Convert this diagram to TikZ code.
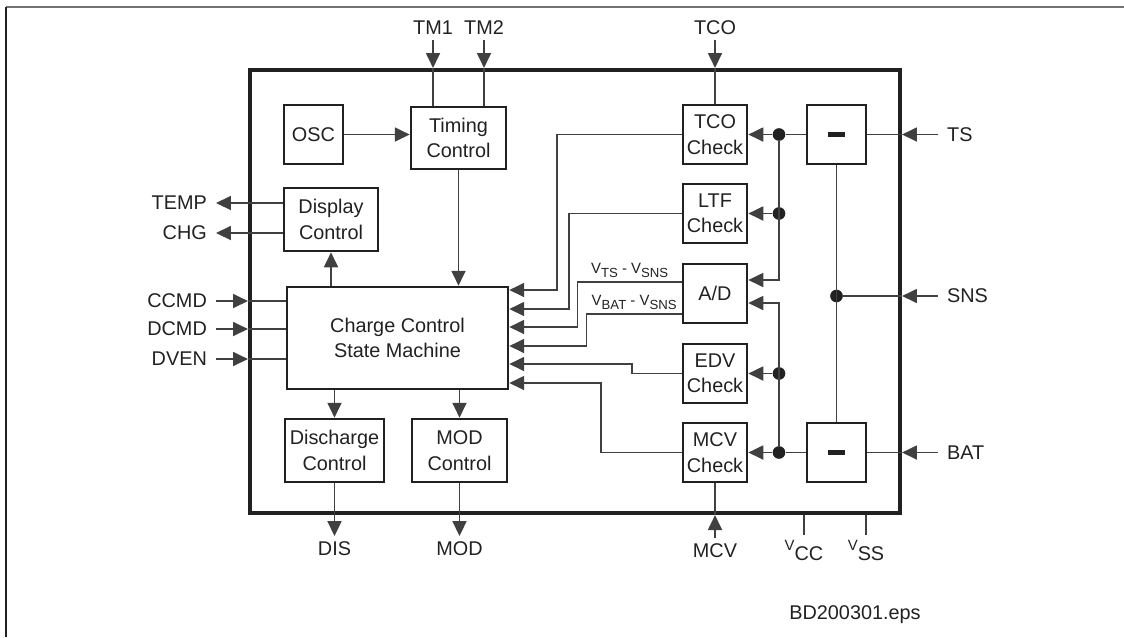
\documentclass[tikz,border=0pt]{standalone}
\usepackage{fontspec}
\setmainfont{Liberation Sans}
\usepackage{tikz}
\usetikzlibrary{arrows.meta,calc}
\definecolor{ink}{gray}{0.13}
\definecolor{wirec}{gray}{0.25}
\newcommand\pinfont{\fontsize{11.3}{14.5}\selectfont}
\newcommand\vrail[1]{\raisebox{5.5pt}{\fontsize{8.5}{9}\selectfont V}#1}
\newcommand\vdiff[2]{V\raisebox{-2.6pt}{\fontsize{7.5}{8}\selectfont #1} - V\raisebox{-2.6pt}{\fontsize{7.5}{8}\selectfont #2}}
\tikzset{
  blk/.style={draw=ink, line width=1.5pt, align=center, inner sep=1pt, text=ink, font=\pinfont},
  chk/.style={blk, minimum width=1.28cm, minimum height=1.18cm},
  diffbox/.style={blk, minimum width=1.18cm, minimum height=1.18cm,
    path picture={\fill[ink] ($(path picture bounding box.center)+(-5.1pt,-1.4pt)$) rectangle ($(path picture bounding box.center)+(5.1pt,1.4pt)$);}},
  chipbox/.style={draw=ink, line width=2.4pt, minimum width=13cm, minimum height=8.86cm},
  pinlbl/.style={text=ink, font=\pinfont, inner xsep=5pt, inner ysep=3pt},
  vlbl/.style={text=ink, font=\fontsize{8.5}{10}\selectfont, inner sep=0pt, above=2pt},
  jn/.style={circle, fill=ink, inner sep=0pt, minimum size=7.2pt},
  wire/.style={draw=wirec, line width=0.9pt},
  fl/.style={wire, -{Triangle[length=8.5pt,width=8pt]}},
}
\begin{document}
\begin{tikzpicture}[x=0.02cm, y=-0.02cm]
\useasboundingbox (0,0) rectangle (1124,637);
% page rule
\draw[black!55, line width=1.3pt] (6,7) -- (1124,7);
\draw[ink, line width=1.1pt] (6,7) -- (6,637);
% chip outline
\node[chipbox] (chip) at (575,291.5) {};
% control blocks
\node[blk, minimum width=1.18cm, minimum height=1.18cm] (osc) at (313.5,134.5) {OSC};
\node[blk, minimum width=1.9cm, minimum height=1.24cm] (tim) at (458.5,138) {Timing\\Control};
\node[blk, minimum width=1.88cm, minimum height=1.26cm] (disp) at (331,219.5) {Display\\Control};
\node[blk, minimum width=4.42cm, minimum height=2.04cm] (ccsm) at (397.5,338) {Charge Control\\State Machine};
\node[blk, minimum width=1.98cm, minimum height=1.26cm] (disch) at (334.5,450.5) {Discharge\\Control};
\node[blk, minimum width=1.9cm, minimum height=1.26cm] (modc) at (459.5,450.5) {MOD\\Control};
% check column
\node[chk] (tco) at (715,134.5) {TCO\\Check};
\node[chk] (ltf) at (715,213.5) {LTF\\Check};
\node[chk] (adc) at (715,293.5) {A/D};
\node[chk] (edv) at (715,373.5) {EDV\\Check};
\node[chk] (mcv) at (715,452.5) {MCV\\Check};
\node[diffbox] (sub1) at (836.5,134.5) {};
\node[diffbox] (sub2) at (836.5,452.5) {};
% junctions
\node[jn] (d1) at (779,134.5) {};
\node[jn] (d2) at (779,213.5) {};
\node[jn] (d3) at (779,373.5) {};
\node[jn] (d4) at (779,452.5) {};
\node[jn] (dsns) at (836.5,296) {};
% pins
\node[pinlbl, anchor=south] (tm1) at (433,40) {TM1};
\node[pinlbl, anchor=south] (tm2) at (484,40) {TM2};
\node[pinlbl, anchor=south] (tcol) at (715,40) {TCO};
\node[pinlbl, anchor=east] (temp) at (216,203) {TEMP};
\node[pinlbl, anchor=east] (chg) at (216,233) {CHG};
\node[pinlbl, anchor=east] (ccmd) at (216,301) {CCMD};
\node[pinlbl, anchor=east] (dcmd) at (216,329) {DCMD};
\node[pinlbl, anchor=east] (dven) at (216,359) {DVEN};
\node[pinlbl, anchor=west] (ts) at (938,134.5) {TS};
\node[pinlbl, anchor=west] (sns) at (938,296) {SNS};
\node[pinlbl, anchor=west] (bat) at (938,452.5) {BAT};
\node[pinlbl, anchor=north] (dis) at (334.5,536) {DIS};
\node[pinlbl, anchor=north] (mod) at (459.5,536) {MOD};
\node[pinlbl, anchor=north] (mcvl) at (715,538) {MCV};
\node[pinlbl, anchor=north] (vcc) at (804,535) {\vrail{CC}};
\node[pinlbl, anchor=north] (vss) at (866,535) {\vrail{SS}};
\node[pinlbl] (fig) at (855,615) {BD200301.eps};
% top inputs
\foreach \p/\b in {tm1/tim, tm2/tim, tcol/tco} {
  \draw[fl] (\p.south) -- (\p.south |- chip.north);
  \draw[wire] (\p.south |- chip.north) -- (\p.south |- \b.north);
}
% left side
\foreach \p in {temp, chg} \draw[fl] (disp.west |- \p) -- (\p.east);
\foreach \p in {ccmd, dcmd, dven} {
  \draw[fl] (\p.east) -- (\p.east -| chip.west);
  \draw[wire] (\p.east -| chip.west) -- (\p.east -| ccsm.west);
}
\draw[fl] (osc.east) -- (osc.east -| tim.west);
\draw[fl] (tim.south) -- (tim.south |- ccsm.north);
\draw[fl] (disp.south |- ccsm.north) -- (disp.south);
\foreach \b/\p in {disch/dis, modc/mod} {
  \draw[fl] (\b.north |- ccsm.south) -- (\b.north);
  \draw[fl] (\b.south) -- (\p.north);
}
% bottom pins
\draw[fl] (mcvl.north) -- (mcvl.north |- chip.south);
\draw[wire] (mcvl.north |- chip.south) -- (mcv.south);
\foreach \p in {vcc, vss} \draw[wire] (\p.north |- chip.south) -- (\p.north);
% right side pins
\foreach \p/\b in {ts/sub1.east, sns/dsns, bat/sub2.east} {
  \draw[fl] (\p.west) -- (\p.west -| chip.east);
  \draw[wire] (\p.west -| chip.east) -- (\b);
}
% sense chain
\draw[wire] (sub1.south) -- (sub2.north);
\draw[wire] (sub1.west) -- (d1);
\draw[wire] (sub2.west) -- (d4);
\draw[fl] (d1) -- (tco.east);
\draw[fl] (d2) -- (ltf.east);
\draw[fl] (d3) -- (edv.east);
\draw[fl] (d4) -- (mcv.east);
\coordinate (adin1) at ($(adc.east)+(0,-13.5)$);
\coordinate (adin2) at ($(adc.east)+(0,9.5)$);
\draw[fl] (d1) |- (adin1);
\draw[fl] (d4) |- (adin2);
% results into state machine
\coordinate (adts) at ($(adc.west)+(0,-11.5)$);
\coordinate (adbat) at ($(adc.west)+(0,20.5)$);
\draw[fl] (tco.west) -| (557,290) -- (ccsm.east |- 0,290);
\draw[fl] (ltf.west) -| (569,309) -- (ccsm.east |- 0,309);
\draw[fl] (adts) -- node[vlbl]{\vdiff{TS}{SNS}} ++(-104,0) |- (ccsm.east |- 0,327);
\draw[fl] (adbat) -- node[vlbl]{\vdiff{BAT}{SNS}} ++(-95,0) |- (ccsm.east |- 0,346);
\draw[fl] (edv.west) -| (632,364) -- (ccsm.east |- 0,364);
\draw[fl] (mcv.west) -| (601,383) -- (ccsm.east |- 0,383);
\end{tikzpicture}
\end{document}
